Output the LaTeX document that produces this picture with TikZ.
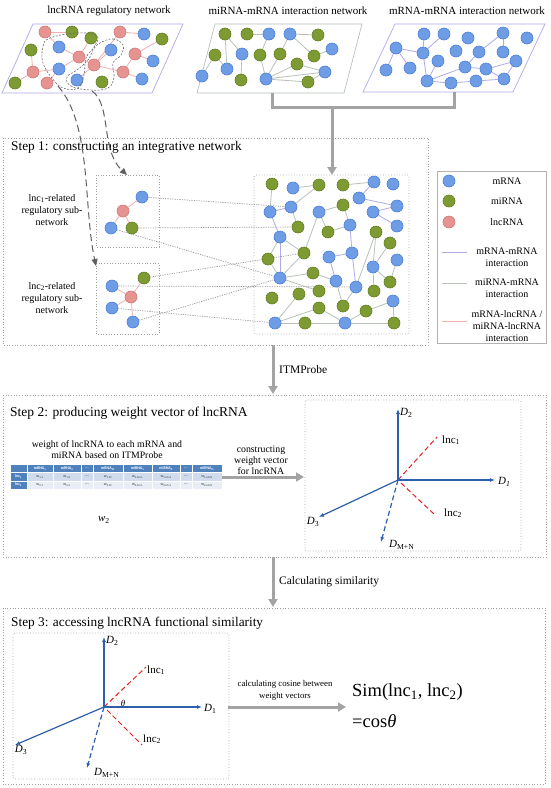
\documentclass[tikz,border=0pt]{standalone}
\usepackage{fontspec}
\setmainfont{Liberation Serif}
\newfontfamily\tabfont{Carlito}
\usetikzlibrary{arrows.meta}
\pgfdeclarelayer{bgw}
\pgfdeclarelayer{bg}
\pgfsetlayers{bgw,bg,main}
\definecolor{mblue}{HTML}{6E9DE6}
\definecolor{mblueB}{HTML}{4D7FD8}
\definecolor{mgreen}{HTML}{7E9A33}
\definecolor{mgreenB}{HTML}{62801F}
\definecolor{mred}{HTML}{E59491}
\definecolor{mredB}{HTML}{D27A78}
\definecolor{elav}{HTML}{AFA9E8}
\definecolor{egray}{HTML}{B8C3B6}
\definecolor{epink}{HTML}{F2B0B0}
\definecolor{boxgray}{HTML}{A0A0A0}
\definecolor{arrgray}{HTML}{A3A3A3}
\definecolor{axblue}{HTML}{2D5FAA}
\definecolor{axred}{HTML}{E52222}
\definecolor{thead}{HTML}{4F81BD}
\definecolor{trowa}{HTML}{D0DBEE}
\definecolor{trowb}{HTML}{E9EEF6}
\newcommand\fsz[2]{\fontsize{#1}{#2}\selectfont}
\begin{document}
\begin{tikzpicture}[x=1pt,y=-1pt,
  mrna/.style={circle,draw=mblueB,fill=mblue,line width=0.6pt,minimum size=12pt,inner sep=0pt},
  mirna/.style={circle,draw=mgreenB,fill=mgreen,line width=0.6pt,minimum size=12pt,inner sep=0pt},
  lncn/.style={circle,draw=mredB,fill=mred,line width=0.6pt,minimum size=12pt,inner sep=0pt},
  ee/.style={draw=elav,line width=0.8pt},
  eg/.style={draw=egray,line width=0.8pt},
  er/.style={draw=epink,line width=0.8pt},
  dotbox/.style={draw=boxgray,dotted,line width=0.7pt},
  conn/.style={draw=gray!80,dash pattern=on 1.2pt off 1.2pt,line width=0.7pt},
  lasso/.style={draw=gray!85!black,dash pattern=on 2pt off 1.5pt,line width=0.6pt},
  darr/.style={draw=gray!75!black,dash pattern=on 7pt off 4pt,line width=1pt,-{Triangle[length=7pt,width=6pt]}},
  bigarr/.style={draw=arrgray,line width=3pt,-{Triangle[length=8pt,width=9pt]}},
  pipe/.style={draw=arrgray,line width=3pt},
  axis/.style={draw=axblue,line width=1.2pt,-{Latex[length=5pt,width=4pt]}},
  daxis/.style={axis,dash pattern=on 5pt off 3pt},
  raxis/.style={draw=axred,line width=1pt,dash pattern=on 5pt off 3pt},
  lbl/.style={inner sep=1pt,font=\fsz{11}{13}},
  lgt/.style={font=\fsz{10}{12},inner sep=0pt,align=center},
  tabtxt/.style={inner sep=0pt,font=\tabfont\fsz{3.6}{4}},
]
\useasboundingbox (0,0) rectangle (550,788);
\begin{pgfonlayer}{bgw}
\fill[white] (0,0) rectangle (550,788);
\end{pgfonlayer}

% ---------- top titles ----------
\node[lbl] (t1) at (109,11) {lncRNA regulatory network};
\node[lbl] (t2) at (288,11) {miRNA-mRNA interaction network};
\node[lbl] (t3) at (467,11) {mRNA-mRNA interaction network};

% ---------- parallelograms ----------
\draw[elav,line width=0.7pt] (33,24) -- (183,24) -- (152,93) -- (2,93) -- cycle;
\draw[egray,line width=0.7pt] (215,24) -- (362,24) -- (344,93) -- (197,93) -- cycle;
\draw[elav,line width=0.7pt] (395,24) -- (545,24) -- (513,92) -- (363,92) -- cycle;

% lncRNA network nodes
\foreach \n/\x/\y in {ra/45/32, rb/120/32, rc/79/57, rd/135/54, re/33/72, rf/94/65, rg/123/72, rh/47/83}
  \node[lncn] (\n) at (\x,\y) {};
\foreach \n/\x/\y in {ga/72/32, gb/91/38, gc/162/39, gd/31/50, ge/15/83, gf/102/82}
  \node[mirna] (\n) at (\x,\y) {};
\foreach \n/\x/\y in {ba/144/34, bb/59/47, bc/111/50, bd/153/61, be/59/69, bf/77/80, bg/142/79}
  \node[mrna] (\n) at (\x,\y) {};

% miRNA-mRNA network nodes
\foreach \n/\x/\y in {qa/225/34, qb/247/34, qc/318/35, qd/215/55, qe/260/55, qf/280/54, qg/314/56, qh/297/64, qi/241/80, qj/308/82}
  \node[mirna] (\n) at (\x,\y) {};
\foreach \n/\x/\y in {pa/269/34, pb/290/34, pc/332/49, pd/242/54, pe/227/69, pf/202/76, pg/325/72, ph/266/79}
  \node[mrna] (\n) at (\x,\y) {};

% mRNA-mRNA network nodes
\foreach \n/\x/\y in {ma/424/34, mb/444/34, mc/468/38, md/503/33, me/527/38, mf/396/48, mg/423/53, mh/456/51, mi/479/52, mj/503/52, mk/438/61, ml/516/61, mm/386/70, mn/410/68, mo/465/67, mp/486/69, mq/427/81, mr/451/83, ms/476/81, mt/504/79}
  \node[mrna] (\n) at (\x,\y) {};

\begin{pgfonlayer}{bg}
\foreach \a/\b in {ra/ga, ra/bb, gd/re, re/ge, re/be, bb/rc, rc/gb, rc/rf, rc/be, rh/be, rf/bc, rf/bf, rb/ba, rb/rf, rd/bd, rd/rg, rd/gc, rg/bg, rg/rf}
  \draw[er] (\a) -- (\b);
\foreach \a/\b in {qa/pd, qa/pe, qb/pa, pa/qe, pb/qc, pb/qf, pb/qg, qg/pc, qd/pe, qd/pf, pd/qi, qe/ph, qf/ph, ph/qh, ph/qj, ph/pg, qh/pg, qj/pg}
  \draw[eg] (\a) -- (\b);
\foreach \a/\b in {mf/mg, mf/mm, mf/mn, ma/mg, mb/mg, mg/mq, mk/mq, mq/mr, mq/mo, mo/mp, mo/mi, mi/md, md/mj, mp/mt, mp/ml, mt/ml, mr/ms, ms/mt}
  \draw[ee] (\a) -- (\b);
\end{pgfonlayer}

% lassos
\draw[lasso] plot[smooth cycle, tension=0.7] coordinates {(50,38) (77,33) (97,36) (94,47) (86,58) (84,75) (78,88) (63,88) (52,78) (43,63) (43,47)};
\draw[lasso] plot[smooth cycle, tension=0.7] coordinates {(100,43) (113,39) (123,45) (121,55) (113,63) (114,77) (108,88) (90,90) (71,86) (67,77) (77,70) (88,60) (93,50)};

% ---------- Step 1 ----------
\draw[dotbox] (3,138) rectangle (428,345);
\node[anchor=west,inner sep=0pt,font=\fsz{13.3}{15}] (s1) at (11,147) {Step 1: constructing an integrative network};

% pipe from networks
\coordinate (pl) at (272,93);
\coordinate (pr) at (454,92);
\coordinate (pj) at (332,107);
\coordinate (bt) at (332,175);
\draw[pipe] (pl) -- (272,107) -- (454,107) -- (pr);
\draw[bigarr] (pj) -- (bt);

% sub-network boxes
\draw[dotbox] (96,175) rectangle (159,247);
\draw[dotbox] (96,263) rectangle (159,334);
\node[lgt] (lab1) at (52,210) {lnc\textsubscript{1}-related\\regulatory sub-\\network};
\node[lgt] (lab2) at (52,298) {lnc\textsubscript{2}-related\\regulatory sub-\\network};

\node[mrna] (ua) at (142,197) {};
\node[lncn] (ur) at (123,211) {};
\node[mrna] (ub) at (111,228) {};
\node[mirna] (ug) at (132,228) {};
\node[mirna] (vg) at (144,278) {};
\node[mrna] (va) at (112,286) {};
\node[lncn] (vr) at (131,297) {};
\node[mrna] (vb) at (112,308) {};
\node[mrna] (vc) at (133,322) {};

% dashed arrows from lassos
\coordinate (ls1) at (58,86);
\coordinate (ls2) at (92,91);
\coordinate (bx1) at (127,175);
\coordinate (bx2) at (96,266);
\draw[darr] (ls1) .. controls (92,125) and (83,205) .. (bx2);
\draw[darr] (ls2) .. controls (112,105) and (100,150) .. (bx1);

% big integrative network
\draw[dotbox,rounded corners=1.5pt] (254,175) rectangle (409,334);
\foreach \n/\x/\y in {G1/272/184, G2/319/185, G3/343/185, G4/343/205, G5/298/227, G6/328/232, G7/376/232, G8/390/243, G9/268/259, G10/304/253, G11/313/273, G12/319/291, G13/390/282, G14/374/291, G15/272/298, G16/299/294, G17/319/308, G18/343/306, G19/366/311, G20/305/323, G21/394/323}
  \node[mirna] (\n) at (\x,\y) {};
\foreach \n/\x/\y in {B1/293/188, B2/374/182, B3/393/184, B4/359/198, B5/291/207, B6/270/212, B7/319/212, B8/373/212, B9/397/206, B10/350/225, B11/397/226, B12/280/237, B13/352/253, B14/329/257, B15/397/260, B16/373/267, B17/280/278, B18/336/281, B19/356/287, B20/393/301, B21/275/323, B22/345/323}
  \node[mrna] (\n) at (\x,\y) {};

\begin{pgfonlayer}{bg}
\foreach \a/\b in {ur/ua, ur/ub, ur/ug, vr/vg, vr/va, vr/vb, vr/vc}
  \draw[er] (\a) -- (\b);
\foreach \a/\b in {G1/B6, B1/G2, G2/B5, B5/G5, B12/G9, B12/G10, G9/B17, G10/B17, B17/G11, B17/G12, G10/B7, B7/G4, B7/G6, G4/B10, G3/B2, B10/G6, G7/B16, G7/B19, G8/B16, B15/G13, B16/G14, B16/G13, B18/G18, B18/G11, B21/G16, B21/G17, B21/G20, G20/B22, G17/B22, B22/G19, G19/B20, B20/G21, B22/G21, G18/B19}
  \draw[eg] (\a) -- (\b);
\foreach \a/\b in {B5/B6, B6/B12, B12/B17, B2/B4, B4/B9, B8/B9, B8/B11, B10/B13, B13/B14, B14/B18, B13/B19}
  \draw[ee] (\a) -- (\b);
\foreach \a/\b in {ua/B5, ug/G5, ub/B17, vg/G10, va/B19, vc/B17, vb/B21}
  \draw[conn] (\a) -- (\b);
\end{pgfonlayer}

% ---------- legend ----------
\draw[draw=boxgray!80,line width=0.6pt] (437,171) rectangle (546,343);
\node[mrna] (lg1) at (449,181) {};
\node[mirna] (lg2) at (449,201) {};
\node[lncn] (lg3) at (449,222) {};
\node[lgt] (lt1) at (507,181) {mRNA};
\node[lgt] (lt2) at (507,201) {miRNA};
\node[lgt] (lt3) at (507,222) {lncRNA};
\coordinate (la1) at (442,252); \coordinate (lb1) at (467,252);
\coordinate (la2) at (442,283); \coordinate (lb2) at (467,283);
\coordinate (la3) at (442,321); \coordinate (lb3) at (467,321);
\draw[ee] (la1) -- (lb1);
\draw[eg] (la2) -- (lb2);
\draw[er] (la3) -- (lb3);
\node[lgt] (lt4) at (507,257) {mRNA-mRNA\\interaction};
\node[lgt] (lt5) at (507,288) {miRNA-mRNA\\interaction};
\node[lgt] (lt6) at (507,326) {mRNA-lncRNA /\\miRNA-lncRNA\\interaction};

% ---------- arrow ITMProbe ----------
\coordinate (a1s) at (273,345);
\coordinate (a1e) at (273,394);
\draw[bigarr] (a1s) -- (a1e);
\node[anchor=west,inner sep=1pt,font=\fsz{11.5}{13}] (itm) at (278,370) {ITMProbe};

% ---------- Step 2 ----------
\draw[dotbox] (3,395) rectangle (546,557);
\node[anchor=west,inner sep=0pt,font=\fsz{13.5}{15}] (s2) at (10,413) {Step 2: producing weight vector of lncRNA};
\node[align=center,inner sep=0pt,font=\fsz{9.8}{11}] (wt) at (107,450) {weight of lncRNA to each mRNA and\\miRNA based on ITMProbe};

% table
\foreach \c/\l/\r/\h/\u/\v in {
  1/27/53/{mRNA\textsubscript{1}}/{w\textsubscript{1-1}}/{w\textsubscript{2-1}},
  2/53/81/{mRNA\textsubscript{2}}/{w\textsubscript{1-2}}/{w\textsubscript{2-2}},
  3/81/93/{...}/{---}/{---},
  4/93/123/{mRNA\textsubscript{M}}/{w\textsubscript{1-M}}/{w\textsubscript{2-M}},
  5/123/152/{miRNA\textsubscript{1}}/{w\textsubscript{1-M+1}}/{w\textsubscript{2-M+1}},
  6/152/180/{miRNA\textsubscript{2}}/{w\textsubscript{1-M+2}}/{w\textsubscript{2-M+2}},
  7/180/192/{...}/{---}/{---},
  8/192/222/{miRNA\textsubscript{N}}/{w\textsubscript{1-M+N}}/{w\textsubscript{2-M+N}}}
{
  \filldraw[fill=thead,draw=white,line width=0.5pt] (\l,464.5) rectangle (\r,472.5);
  \filldraw[fill=trowa,draw=white,line width=0.5pt] (\l,472.5) rectangle (\r,480.8);
  \filldraw[fill=trowb,draw=white,line width=0.5pt] (\l,480.8) rectangle (\r,489);
  \node[tabtxt,text=white,font=\tabfont\bfseries\fsz{4}{4.5}] (th\c) at ({(\l+\r)/2},468.5) {\h};
  \node[tabtxt,text=black!80,font=\tabfont\fsz{4}{4.5}] (tu\c) at ({(\l+\r)/2},476.7) {\u};
  \node[tabtxt,text=black!80,font=\tabfont\fsz{4}{4.5}] (tv\c) at ({(\l+\r)/2},485) {\v};
}
\filldraw[fill=thead,draw=white,line width=0.5pt] (10,464.5) rectangle (27,472.5);
\filldraw[fill=thead,draw=white,line width=0.5pt] (10,472.5) rectangle (27,480.8);
\filldraw[fill=thead,draw=white,line width=0.5pt] (10,480.8) rectangle (27,489);
\node[tabtxt,text=white,font=\tabfont\bfseries\fsz{4}{4.5}] (tu0) at (18.5,476.7) {lnc\textsubscript{1}};
\node[tabtxt,text=white,font=\tabfont\bfseries\fsz{4}{4.5}] (tv0) at (18.5,485) {lnc\textsubscript{2}};

\node[lbl] (w2) at (104,520) {\textit{w}\textsubscript{2}};

\coordinate (a2s) at (222,477);
\coordinate (a2e) at (304,477);
\draw[bigarr] (a2s) -- (a2e);
\node[align=center,inner sep=0pt,font=\fsz{9.8}{11}] (cw) at (261,460) {constructing\\weight vector\\for lncRNA};

% axes step 2
\draw[dotbox,rounded corners=1.5pt] (305,400) rectangle (521,551);
\coordinate (O2) at (398,480);
\coordinate (X2a) at (398,409);
\coordinate (X2b) at (495,480);
\coordinate (X2c) at (319,517);
\coordinate (X2d) at (381,542);
\coordinate (L2a) at (437,437);
\coordinate (L2s) at (401,483);
\coordinate (L2b) at (435,515);
\draw[raxis] (O2) -- (L2a);
\draw[raxis] (L2s) -- (L2b);
\draw[axis] (O2) -- (X2a);
\draw[axis] (O2) -- (X2b);
\draw[axis] (O2) -- (X2c);
\draw[daxis] (O2) -- (X2d);
\node[lbl,anchor=west] (d2a) at (399,413) {\textit{D}\textsubscript{2}};
\node[lbl,anchor=west] (d2b) at (497,482) {\textit{D}\textsubscript{\textit{1}}};
\node[lbl] (d2c) at (313,522) {\textit{D}\textsubscript{3}};
\node[lbl,anchor=west] (d2d) at (388,545) {\textit{D}\textsubscript{M+N}};
\node[lbl,anchor=west] (n2a) at (441,440) {lnc\textsubscript{1}};
\node[lbl,anchor=west] (n2b) at (443,513) {lnc\textsubscript{2}};

% ---------- arrow calculating similarity ----------
\coordinate (a3s) at (273,557);
\coordinate (a3e) at (273,607);
\draw[bigarr] (a3s) -- (a3e);
\node[anchor=west,inner sep=1pt,font=\fsz{11.5}{13}] (cs) at (278,582) {Calculating similarity};

% ---------- Step 3 ----------
\draw[dotbox] (3,608) rectangle (545,784);
\node[anchor=west,inner sep=0pt,font=\fsz{13.3}{15}] (s3) at (11,623) {Step 3: accessing lncRNA functional similarity};
\draw[dotbox,rounded corners=1.5pt] (13,633) rectangle (229,779);
\coordinate (O3) at (104,707);
\coordinate (X3a) at (104,637);
\coordinate (X3b) at (202,707);
\coordinate (X3c) at (15,745);
\coordinate (X3d) at (87,768);
\coordinate (L3a) at (146,667);
\coordinate (L3s) at (107,710);
\coordinate (L3b) at (142,745);
\draw[epink,dotted,line width=0.6pt] (O3) ++(-45:11) arc (-45:45:11);
\draw[epink,dotted,line width=0.6pt] (O3) ++(-45:15) arc (-45:45:15);
\draw[raxis] (O3) -- (L3a);
\draw[raxis] (L3s) -- (L3b);
\draw[axis] (O3) -- (X3a);
\draw[axis] (O3) -- (X3b);
\draw[axis] (O3) -- (X3c);
\draw[daxis] (O3) -- (X3d);
\node[lbl,anchor=west] (d3a) at (105,641) {\textit{D}\textsubscript{2}};
\node[lbl,anchor=west] (d3b) at (203,709) {\textit{D}\textsubscript{1}};
\node[lbl] (d3c) at (21,750) {\textit{D}\textsubscript{3}};
\node[lbl,anchor=west] (d3d) at (93,773) {\textit{D}\textsubscript{M+N}};
\node[lbl,anchor=west] (n3a) at (146,670) {lnc\textsubscript{1}};
\node[lbl,anchor=west] (n3b) at (142,739) {lnc\textsubscript{2}};
\node[inner sep=0pt,font=\fsz{9}{10}] (th) at (123,703) {\textit{θ}};

\coordinate (a4s) at (228,707);
\coordinate (a4e) at (346,707);
\draw[bigarr] (a4s) -- (a4e);
\node[align=center,inner sep=0pt,font=\fsz{8.8}{12}] (cc) at (285,690) {calculating cosine between\\weight vectors};
\node[anchor=west,inner sep=0pt,font=\fsz{18.5}{22}] (sim1) at (352,692) {Sim(lnc\textsubscript{1}, lnc\textsubscript{2})};
\node[anchor=west,inner sep=0pt,font=\fsz{18.5}{22}] (sim2) at (352,721) {=cos\textit{θ}};
\end{tikzpicture}
\end{document}
